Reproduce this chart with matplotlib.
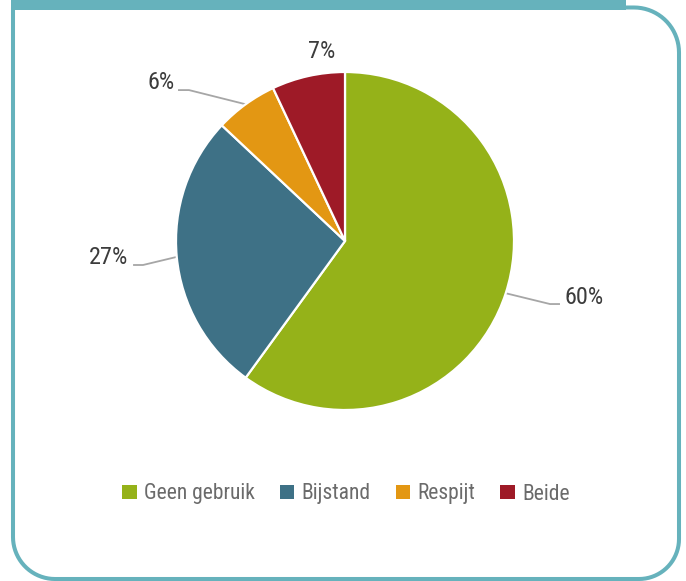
import numpy as np
import matplotlib
matplotlib.use("Agg")
import matplotlib.pyplot as plt
from matplotlib.path import Path
from matplotlib.patches import PathPatch, Rectangle
from matplotlib import font_manager as fm

# ---- data ----
categories = ["Geen gebruik", "Bijstand", "Respijt", "Beide"]
values = [60, 27, 6, 7]
labels = ["60%", "27%", "6%", "7%"]
colors = ["#95B219", "#3E7186", "#E39713", "#9E1A27"]

# ---- layout (label text anchor, leader line elbow/end) in pie-radius units ----
label_text_pos = [(1.296, -0.335), (-1.284, -0.10), (-1.006, 0.94), (-0.136, 1.124)]
label_ha = ["left", "right", "right", "center"]
leader_elbow = [(1.213, -0.373), (-1.195, -0.142), (-0.923, 0.893), None]
leader_end = [(1.272, -0.373), (-1.254, -0.142), (-0.988, 0.893), None]

available = {f.name for f in fm.fontManager.ttflist}
cands = ["Roboto Condensed", "Liberation Sans Narrow", "Open Sans Condensed",
         "Noto Sans Condensed", "DejaVu Sans"]
FONT = [c for c in cands if c in available] + ["DejaVu Sans"]
plt.rcParams["font.family"] = FONT
plt.rcParams["font.stretch"] = "condensed"

W, H = 686, 581
fig = plt.figure(figsize=(W / 100, H / 100), dpi=100)

# frame axes in pixel coordinates
fax = fig.add_axes([0, 0, 1, 1])
fax.set_xlim(0, W)
fax.set_ylim(H, 0)
fax.axis("off")

border_col = "#66B2BC"
L, R, T, B = 13, 679, 7.5, 579
rbl, rbr, rtr = 42, 40, 45
verts = [(L, T), (L, B - rbl)]
for a in np.linspace(180, 90, 20):
    verts.append((L + rbl + rbl * np.cos(np.radians(a)), B - rbl + rbl * np.sin(np.radians(a))))
verts.append((R - rbr, B))
for a in np.linspace(90, 0, 20):
    verts.append((R - rbr + rbr * np.cos(np.radians(a)), B - rbr + rbr * np.sin(np.radians(a))))
verts.append((R, T + rtr))
for a in np.linspace(0, -90, 20):
    verts.append((R - rtr + rtr * np.cos(np.radians(a)), T + rtr + rtr * np.sin(np.radians(a))))
verts.append((L, T))
fax.add_patch(PathPatch(Path(verts), fill=False, edgecolor=border_col, lw=2.9,
                        joinstyle="round", capstyle="butt"))
fax.add_patch(Rectangle((11, -1), 626 - 11, 10.5, facecolor=border_col, edgecolor="none"))

# pie axes: center at pixel (345,241), radius 169px
cx, cy, rad = 345, 241, 169
ax = fig.add_axes([0, 0, 1, 1])
ax.patch.set_alpha(0)

wedges, _ = ax.pie(values, colors=colors, startangle=90, counterclock=False,
                   radius=1.0, center=(0, 0), frame=True,
                   wedgeprops=dict(edgecolor="white", linewidth=1.6))
ax.set_xlim(-cx / rad, (W - cx) / rad)
ax.set_ylim((cy - H) / rad, cy / rad)
ax.axis("off")

for w, lab, tp, ha, el, en in zip(wedges, labels, label_text_pos, label_ha, leader_elbow, leader_end):
    mid = np.radians((w.theta1 + w.theta2) / 2)
    if el is not None:
        sx, sy = 1.0 * np.cos(mid), 1.0 * np.sin(mid)
        ax.plot([sx, el[0], en[0]], [sy, el[1], en[1]], color="#A6A6A6", lw=1.3,
                solid_capstyle="butt", zorder=0.5)
    ax.text(tp[0], tp[1], lab, ha=ha, va="center", fontsize=17.5, color="#3C3C3C")

leg = fig.legend(wedges, categories, loc="center", bbox_to_anchor=(346 / W, 1 - 494 / H),
                 ncol=4, frameon=False, fontsize=15.5, handlelength=0.67, handleheight=0.65,
                 handletextpad=0.35, columnspacing=1.15, labelcolor="#6B6B6B")
for h in leg.legend_handles:
    h.set_edgecolor("none")

fig.savefig("out.png", dpi=100)
